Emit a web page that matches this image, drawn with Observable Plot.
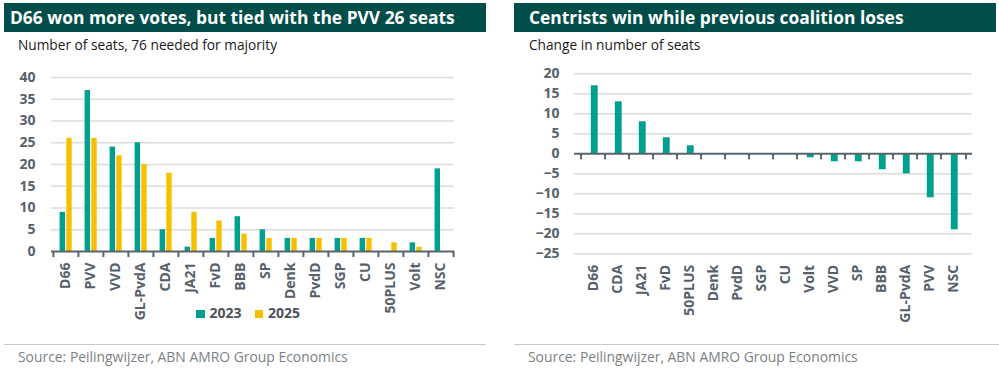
<!DOCTYPE html>
<html><head><meta charset="utf-8">
<script src="https://cdn.jsdelivr.net/npm/d3@7"></script>
<script src="https://cdn.jsdelivr.net/npm/@observablehq/plot@0.6"></script>
<style>
body{margin:0;background:#fff;font-family:"Open Sans",sans-serif;}
#wrap{position:relative;width:999px;height:370px;overflow:hidden;background:#fff;}
.banner{position:absolute;top:3px;height:29px;background:#004d4a;color:#fff;font-weight:700;font-size:17.4px;line-height:29px;padding-left:6px;box-sizing:border-box;white-space:nowrap;}
.sub{position:absolute;top:35px;font-size:13.7px;color:#1a1a1a;white-space:nowrap;}
.sep{position:absolute;top:344px;height:1px;background:#c9c9c9;}
.src{position:absolute;top:347px;font-size:13.9px;color:#7a7f85;white-space:nowrap;}
.plot{position:absolute;top:60px;}
.legend{position:absolute;top:303px;left:196px;font-size:14px;font-weight:700;color:#4a525a;white-space:nowrap;}
.legend span.sw{display:inline-block;width:8.5px;height:8.5px;margin-right:5px;vertical-align:0px;}
</style>
</head><body>
<div id="wrap">
  <div class="banner" style="left:4px;width:482px;">D66 won more votes, but tied with the PVV 26 seats</div>
  <div class="sub" style="left:18px;">Number of seats, 76 needed for majority</div>
  <div class="banner" style="left:514px;width:482px;padding-left:15px;">Centrists win while previous coalition loses</div>
  <div class="sub" style="left:529px;">Change in number of seats</div>
  <div id="left" class="plot" style="left:0px;"></div>
  <div id="right" class="plot" style="left:500px;"></div>
  <div class="legend"><span class="sw" style="background:#00a08f"></span>2023<span style="display:inline-block;width:13px"></span><span class="sw" style="background:#f5c000"></span>2025</div>
  <div class="sep" style="left:4px;width:482px;"></div>
  <div class="sep" style="left:514px;width:485px;"></div>
  <div class="src" style="left:18px;">Source: Peilingwijzer, ABN AMRO Group Economics</div>
  <div class="src" style="left:528px;">Source: Peilingwijzer, ABN AMRO Group Economics</div>
</div>
<script>
// ---- Data ----
const parties = ["D66","PVV","VVD","GL-PvdA","CDA","JA21","FvD","BBB","SP","Denk","PvdD","SGP","CU","50PLUS","Volt","NSC"];
const seats2023 = [9,37,24,25,5,1,3,8,5,3,3,3,3,0,2,19];
const seats2025 = [26,26,22,20,18,9,7,4,3,3,3,3,3,2,1,0];
const years = ["2023","2025"];
const leftTicks = [0,5,10,15,20,25,30,35,40];

const changeParties = ["D66","CDA","JA21","FvD","50PLUS","Denk","PvdD","SGP","CU","Volt","VVD","SP","BBB","GL-PvdA","PVV","NSC"];
const changeValues = [17,13,8,4,2,0,0,0,0,-1,-2,-2,-4,-5,-11,-19];
const rightTicks = [20,15,10,5,0,-5,-10,-15,-20,-25];

// ---- Styles ----
const TEAL = "#00a08f", YELLOW = "#f5c000", GRID = "#dcdcdc", AXIS = "#5a646c";
const baseStyle = {fontFamily:'"Open Sans", sans-serif', fontSize:"14px", fontWeight:700, color:"#56616b", background:"transparent", overflow:"visible"};

const rows2023 = parties.map((p,i)=>({party:p, year:years[0], seats:seats2023[i]}));
const rows2025 = parties.map((p,i)=>({party:p, year:years[1], seats:seats2025[i]}));

function edgeTicks(domain, step){
  return [
    Plot.ruleX(domain, {x:d=>d, y1:0, y2:0, insetBottom:-6, dx:-step/2, stroke:AXIS, strokeWidth:2}),
    Plot.ruleX([domain[domain.length-1]], {x:d=>d, y1:0, y2:0, insetBottom:-6, dx:step/2, stroke:AXIS, strokeWidth:2})
  ];
}

// Left chart
{
  const W=495, H=270, ml=51, mr=41;
  const step=(W-ml-mr)/parties.length;
  const chart = Plot.plot({
    width:W, height:H, marginTop:17, marginBottom:79, marginLeft:ml, marginRight:mr,
    style:baseStyle,
    x:{domain:parties, padding:0, tickRotate:-90, tickSize:0, tickPadding:11, label:null},
    y:{domain:[0,40], ticks:leftTicks, tickSize:0, tickPadding:16, label:null},
    marks:[
      Plot.ruleY(leftTicks.filter(v=>v!==0), {stroke:GRID, strokeWidth:1.5}),
      Plot.barY(rows2023, {x:"party", y:"seats", fill:TEAL, insetLeft:6.6, insetRight:13}),
      Plot.barY(rows2025, {x:"party", y:"seats", fill:YELLOW, insetLeft:13.3, insetRight:6.3}),
      Plot.ruleY([0], {stroke:AXIS, strokeWidth:2}),
      ...edgeTicks(parties, step)
    ]
  });
  document.getElementById("left").appendChild(chart);
}

// Right chart
{
  const W=499, H=270, ml=74, mr=27;
  const step=(W-ml-mr)/changeParties.length;
  const rows = changeParties.map((p,i)=>({party:p, change:changeValues[i]}));
  const chart = Plot.plot({
    width:W, height:H, marginTop:13.3, marginBottom:76.7, marginLeft:ml, marginRight:mr,
    style:baseStyle,
    x:{domain:changeParties, padding:0, tickRotate:-90, tickSize:0, tickPadding:11, label:null},
    y:{domain:[-25,20], ticks:rightTicks, tickSize:0, tickPadding:15, label:null},
    marks:[
      Plot.ruleY(rightTicks.filter(v=>v!==0), {stroke:GRID, strokeWidth:1.5}),
      Plot.barY(rows, {x:"party", y:"change", fill:TEAL, insetLeft:9.8, insetRight:7.3}),
      Plot.ruleY([0], {stroke:AXIS, strokeWidth:2}),
      ...edgeTicks(changeParties, step)
    ]
  });
  document.getElementById("right").appendChild(chart);
}
</script>
</body></html>
